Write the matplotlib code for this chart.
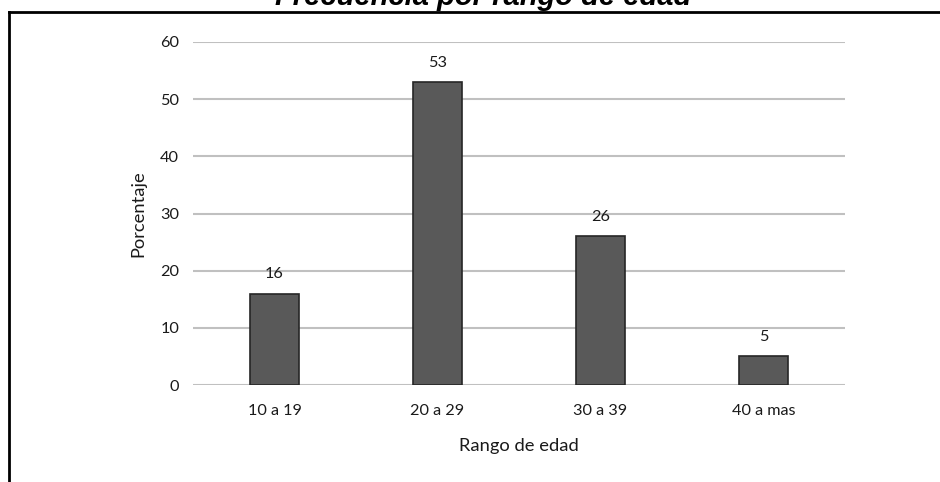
import matplotlib.pyplot as plt
from matplotlib.lines import Line2D

rangos = ['10 a 19', '20 a 29', '30 a 39', '40 a mas']
porcentaje = [16, 53, 26, 5]
yticks = [0, 10, 20, 30, 40, 50, 60]

plt.rcParams['font.family'] = ['Lato', 'DejaVu Sans']

fig = plt.figure(figsize=(9.4, 4.82), dpi=100)
ax = fig.add_axes([0.2053, 0.2012, 0.6937, 0.7117])

x = range(len(rangos))
bars = ax.bar(x, porcentaje, width=0.30, color='#595959', edgecolor='#262626',
              linewidth=1.2, zorder=3)
for b, v in zip(bars, porcentaje):
    ax.annotate(str(v), (b.get_x() + b.get_width() / 2, v), xytext=(0, 9),
                textcoords='offset points', ha='center', va='bottom',
                fontsize=11.7, color='#1a1a1a')

ax.set_xlim(-0.5, len(rangos) - 0.5)
ax.set_ylim(0, 60)
ax.set_yticks(yticks)
ax.set_xticks(list(x))
ax.set_xticklabels(rangos)
ax.tick_params(length=0, labelsize=11.7, colors='#1a1a1a', pad=10)
ax.tick_params(axis='x', pad=14)
ax.grid(axis='y', color='#c0c0c0', linewidth=1.5, zorder=0)
for s in ax.spines.values():
    s.set_visible(False)

ax.set_xlabel('Rango de edad', fontsize=13.2, color='#1a1a1a', labelpad=14)
ax.set_ylabel('Porcentaje', fontsize=13.2, color='#1a1a1a', labelpad=10)

# outer frame: left and top edges only
fig.add_artist(Line2D([9 / 940, 9 / 940], [0, 1 - 12 / 482], transform=fig.transFigure,
                      color='black', linewidth=2))
fig.add_artist(Line2D([9 / 940, 1], [1 - 12 / 482, 1 - 12 / 482], transform=fig.transFigure,
                      color='black', linewidth=2))

fig.text(483 / 940, 1 - 5 / 482, 'Frecuencia por rango de edad', ha='center',
         va='baseline', fontsize=21, fontweight='bold', fontstyle='italic',
         family=['Liberation Sans', 'DejaVu Sans'])

fig.savefig('out.png', dpi=100)
